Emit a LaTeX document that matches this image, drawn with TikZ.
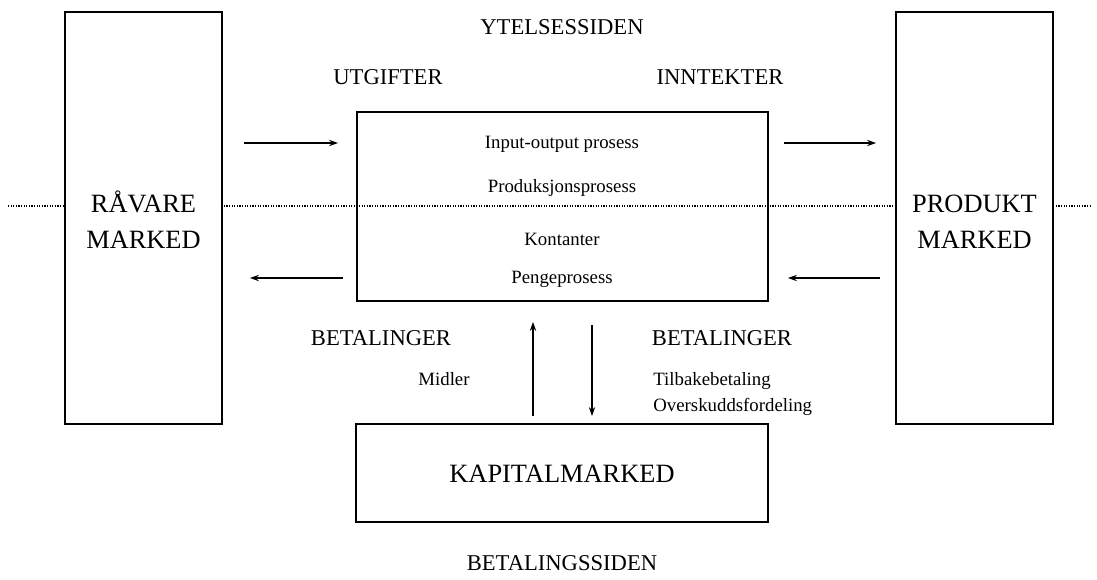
\documentclass[tikz,border=0pt]{standalone}
\usepackage{fontspec}
\setmainfont{Liberation Serif}
\usetikzlibrary{arrows.meta}
\begin{document}
\begin{tikzpicture}[x=0.5pt,y=-0.5pt,
  box/.style={draw,line width=0.65pt,inner sep=0pt,rectangle},
  sidebox/.style={box,fill=white,minimum width=78.5pt,minimum height=206pt},
  big/.style={font=\fontsize{13.2}{18}\selectfont},
  mid/.style={font=\fontsize{11.3}{13}\selectfont},
  small/.style={font=\fontsize{9.4}{13}\selectfont},
  lbl/.style={inner sep=0pt,anchor=base},
  flow/.style={line width=0.55pt,-{Stealth[length=4.5pt,width=3.2pt]}},
  sep/.style={line width=0.65pt,dash pattern=on 0.6pt off 0.7pt}]
\useasboundingbox (0,0) rectangle (1097,579);
% dotted separator
\coordinate (dl) at (8,206);
\coordinate (dr) at (1092,206);
\draw[sep] (dl) -- (dr);
% boxes
\node[sidebox] (raw) at (143.5,218) {};
\node[sidebox] (prod) at (974.5,218) {};
\node[box,minimum width=205.5pt,minimum height=94.5pt] (proc) at (562.5,206.5) {};
\node[box,minimum width=206pt,minimum height=49pt] (kap) at (562,473) {};
% side texts
\node[lbl,big] (rawt1) at (143.5,212) {RÅVARE};
\node[lbl,big] (rawt2) at (143.5,248) {MARKED};
\node[lbl,big] (prodt1) at (974.5,212) {PRODUKT};
\node[lbl,big] (prodt2) at (974.5,248) {MARKED};
\node[lbl,big] (kapt) at (562,482) {KAPITALMARKED};
% top / bottom headings
\node[lbl,mid] (ytel) at (562,34) {YTELSESSIDEN};
\node[lbl,mid] (utg) at (388,84) {UTGIFTER};
\node[lbl,mid] (inn) at (720,84) {INNTEKTER};
\node[lbl,mid] (bet1) at (381,345) {BETALINGER};
\node[lbl,mid] (bet2) at (722,345) {BETALINGER};
\node[lbl,mid] (betside) at (562,570) {BETALINGSSIDEN};
% process texts
\node[lbl,small] (io) at (562,148) {Input-output prosess};
\node[lbl,small] (pp) at (562,192) {Produksjonsprosess};
\node[lbl,small] (kont) at (562,245) {Kontanter};
\node[lbl,small] (penge) at (562,283) {Pengeprosess};
% payment texts
\node[lbl,small] (midl) at (444,385) {Midler};
\node[lbl,small,anchor=base west] (tilb) at (653,385) {Tilbakebetaling};
\node[lbl,small,anchor=base west] (over) at (653,411) {Overskuddsfordeling};
% arrows
\coordinate (a1s) at (244,143); \coordinate (a1e) at (338,143);
\coordinate (a2s) at (784,143); \coordinate (a2e) at (876,143);
\coordinate (a3s) at (343,278); \coordinate (a3e) at (250,278);
\coordinate (a4s) at (880,278); \coordinate (a4e) at (788,278);
\coordinate (a5s) at (533,416); \coordinate (a5e) at (533,322);
\coordinate (a6s) at (592,325); \coordinate (a6e) at (592,416);
\draw[flow] (a1s) -- (a1e);
\draw[flow] (a2s) -- (a2e);
\draw[flow] (a3s) -- (a3e);
\draw[flow] (a4s) -- (a4e);
\draw[flow] (a5s) -- (a5e);
\draw[flow] (a6s) -- (a6e);
\end{tikzpicture}
\end{document}
